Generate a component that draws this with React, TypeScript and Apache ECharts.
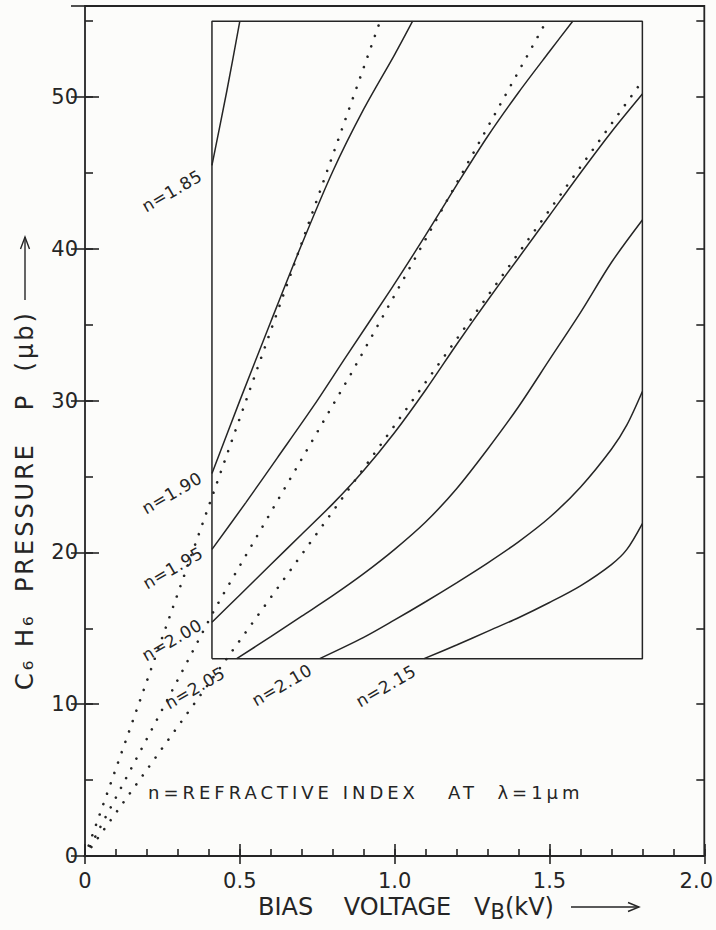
import React, { useEffect, useRef } from 'react';
import * as echarts from 'echarts';

// ---- axis ticks ----
const xTickValues = [0, 0.5, 1.0, 1.5, 2.0];
const xTickLabels = ['0', '0.5', '1.0', '1.5', '2.0'];
const yTickValues = [0, 10, 20, 30, 40, 50];
const yTickLabels = ['0', '10', '20', '30', '40', '50'];

// ---- solid curves of constant refractive index: [V_B (kV), P (μb)] ----
const n185 = [[0.41, 45.5], [0.458, 50.4], [0.5, 55]];
const n190 = [[0.41, 25.2], [0.5, 30.0], [0.6, 35.2], [0.7, 40.3], [0.8, 45.1], [0.9, 49.2], [1.0, 52.8], [1.058, 55]];
const n195 = [[0.41, 20.2], [0.52, 23.3], [0.62, 26.2], [0.74, 29.7], [0.84, 32.8], [0.99, 37.4], [1.1, 40.9], [1.2, 44.2], [1.3, 47.4], [1.4, 50.3], [1.5, 53.0], [1.575, 55]];
const n200 = [[0.41, 15.4], [0.5, 17.2], [0.6, 19.2], [0.7, 21.2], [0.8, 23.2], [0.9, 25.4], [1.0, 27.9], [1.1, 30.7], [1.2, 33.7], [1.3, 36.6], [1.4, 39.4], [1.5, 42.2], [1.6, 45.0], [1.7, 47.7], [1.8, 50.2]];
const n205 = [[0.49, 13.0], [0.6, 14.45], [0.7, 15.8], [0.8, 17.15], [0.9, 18.6], [1.0, 20.2], [1.1, 22.0], [1.2, 24.2], [1.3, 26.8], [1.4, 29.6], [1.5, 32.7], [1.6, 35.8], [1.7, 39.1], [1.8, 41.9]];
const n210 = [[0.758, 13.0], [0.9, 14.4], [1.0, 15.55], [1.1, 16.75], [1.2, 18.0], [1.3, 19.3], [1.4, 20.7], [1.5, 22.3], [1.6, 24.3], [1.7, 26.8], [1.75, 28.4], [1.8, 30.6]];
const n215 = [[1.095, 13.0], [1.2, 13.9], [1.3, 14.8], [1.4, 15.7], [1.5, 16.7], [1.6, 17.8], [1.7, 19.2], [1.75, 20.2], [1.8, 21.9]];
const curveLabels = ['n=1.85', 'n=1.90', 'n=1.95', 'n=2.00', 'n=2.05', 'n=2.10', 'n=2.15'];

// ---- dotted lines from the origin ----
const dottedA = [[0, 0], [0.397, 22.9], [0.953, 55]];
const dottedB = [[0, 0], [0.22, 8.5], [0.42, 16.3], [0.86, 31.8], [1.49, 55]];
const dottedC = [[0, 0], [0.274, 7.8], [0.8, 22.7], [1.787, 50.7]];

// ---- inner frame ----
const innerBox = [[0.41, 13], [1.8, 13], [1.8, 55], [0.41, 55], [0.41, 13]];

// ---- texts ----
const noteText = 'n=REFRACTIVE INDEX   AT  λ=1μm';
const yTitle = 'C₆ H₆  PRESSURE   P  (μb)';
const xTitleRich = '{t|BIAS    VOLTAGE   V}{s|B}{t|(kV)}';

const css =
  'text[style*="17.99px"]{letter-spacing:4px}' +
  'text[style*="23.99px"]{letter-spacing:3px}' +
  'text[style*="16.99px"]{letter-spacing:0.6px}';

export default function App() {
  const ref = useRef<HTMLDivElement>(null);
  useEffect(() => {
    const el = ref.current;
    if (!el) return;
    const chart = echarts.init(el, null, { renderer: 'svg' });
    const INK = '#252525';
    const FONT = "'DejaVu Sans', sans-serif";

    const fmtX = (v: number) => {
      const i = xTickValues.findIndex((t) => Math.abs(t - v) < 1e-6);
      if (i < 0) return '';
      return i === xTickValues.length - 1 ? `{e|${xTickLabels[i]}}` : xTickLabels[i];
    };
    const fmtY = (v: number) => {
      const i = yTickValues.findIndex((t) => Math.abs(t - v) < 1e-6);
      return i < 0 ? '' : yTickLabels[i];
    };
    const tickStyle = { color: INK, width: 1.6 };
    const base = { type: 'value', axisLine: { show: false }, splitLine: { show: false } };

    const xAxis = [
      {
        ...base, position: 'bottom', min: 0, max: 2, interval: 0.5,
        axisTick: { inside: true, length: 12, lineStyle: tickStyle },
        axisLabel: {
          formatter: fmtX, margin: 14, color: INK, fontSize: 21, fontFamily: FONT,
          rich: { e: { padding: [0, 16, 0, 0], fontSize: 21, fontFamily: FONT, color: INK } },
        },
      },
      { ...base, position: 'bottom', min: 0, max: 2, interval: 0.1, axisTick: { inside: true, length: 7, lineStyle: tickStyle }, axisLabel: { show: false } },
      { ...base, position: 'top', min: 0, max: 2, interval: 0.5, axisTick: { inside: true, length: 8, lineStyle: tickStyle }, axisLabel: { show: false } },
    ];
    const yAxis = [
      {
        ...base, position: 'left', min: 0, max: 56, interval: 10,
        axisTick: { inside: true, length: 14, lineStyle: tickStyle },
        axisLabel: { formatter: fmtY, margin: 7, color: INK, fontSize: 21, fontFamily: FONT },
      },
      { ...base, position: 'left', min: 0, max: 56, interval: 5, axisTick: { inside: true, length: 8, lineStyle: tickStyle }, axisLabel: { show: false } },
      { ...base, position: 'right', min: 0, max: 56, interval: 10, axisTick: { inside: true, length: 14, lineStyle: tickStyle }, axisLabel: { show: false } },
      { ...base, position: 'right', min: 0, max: 56, interval: 5, axisTick: { inside: true, length: 8, lineStyle: tickStyle }, axisLabel: { show: false } },
    ];

    const solid = (data: number[][]) => ({
      type: 'line', data, symbol: 'none', smooth: 0.3, silent: true,
      lineStyle: { color: INK, width: 1.5 }, z: 3,
    });
    const dotted = (data: number[][]) => ({
      type: 'line', data, symbol: 'none', silent: true,
      lineStyle: { color: INK, width: 2.6, type: [0.01, 11], cap: 'round' }, z: 4,
    });

    const labelPos = [[172, 191], [172, 493], [173, 568], [172, 640], [195, 688], [282, 685], [386, 686]];
    const labelGraphics = curveLabels.map((t, i) => ({
      type: 'text', x: labelPos[i][0], y: labelPos[i][1], rotation: Math.PI / 6,
      style: { text: t, fontSize: 16.99, fontFamily: FONT, fill: INK, textAlign: 'center', textVerticalAlign: 'middle' },
    }));

    chart.setOption({
      animation: false,
      backgroundColor: 'transparent',
      grid: { left: 85, right: 11, top: 6, bottom: 74, show: true, borderColor: INK, borderWidth: 1.8, backgroundColor: 'transparent' },
      xAxis,
      yAxis,
      series: [
        { type: 'line', data: innerBox, symbol: 'none', silent: true, lineStyle: { color: INK, width: 1.5 }, z: 2 },
        ...[n185, n190, n195, n200, n205, n210, n215].map(solid),
        ...[dottedA, dottedB, dottedC].map(dotted),
      ],
      graphic: [
        ...labelGraphics,
        {
          type: 'text', x: 148, y: 792,
          style: { text: noteText, fontSize: 17.99, fontFamily: FONT, fill: INK, textAlign: 'left', textVerticalAlign: 'middle' },
        },
        {
          type: 'text', x: 25, y: 690, rotation: Math.PI / 2,
          style: { text: yTitle, fontSize: 23.99, fontFamily: FONT, fill: INK, textAlign: 'left', textVerticalAlign: 'middle' },
        },
        { type: 'line', shape: { x1: 25, y1: 300, x2: 25, y2: 237 }, style: { stroke: INK, lineWidth: 1.4 } },
        { type: 'polyline', shape: { points: [[20.5, 249], [25, 237], [29.5, 249]] }, style: { stroke: INK, lineWidth: 1.4, fill: 'none' } },
        {
          type: 'text', x: 258, y: 907,
          style: {
            text: xTitleRich, fill: INK, textAlign: 'left', textVerticalAlign: 'middle',
            rich: {
              t: { fontSize: 24, fontFamily: FONT, fill: INK, lineHeight: 30 },
              s: { fontSize: 21, fontFamily: FONT, fill: INK, lineHeight: 18, verticalAlign: 'bottom' },
            },
          },
        },
        { type: 'line', shape: { x1: 571, y1: 907, x2: 639, y2: 907 }, style: { stroke: INK, lineWidth: 1.4 } },
        { type: 'polyline', shape: { points: [[628, 902.5], [639, 907], [628, 911.5]] }, style: { stroke: INK, lineWidth: 1.4, fill: 'none' } },
      ],
    });
    return () => chart.dispose();
  }, []);

  return (
    <>
      <style>{css}</style>
      <div
        ref={ref}
        style={{ position: 'fixed', left: 0, top: 0, width: 716, height: 930, background: '#fcfcfa' }}
      />
    </>
  );
}
